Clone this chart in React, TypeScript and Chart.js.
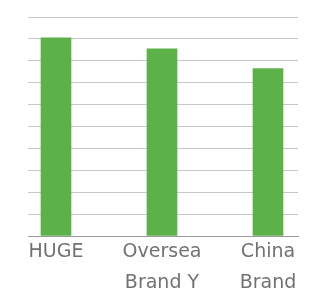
import React, { useEffect, useRef } from "react";
import { Chart, registerables } from "chart.js";

Chart.register(...registerables);

const categories: string[][] = [["HUGE"], ["Oversea", "Brand Y"], ["China", "Brand"]];
const values: number[] = [9.05, 8.55, 7.65];
const yTicks: number[] = [0, 1, 2, 3, 4, 5, 6, 7, 8, 9, 10];

export default function App() {
  const ref = useRef<HTMLCanvasElement | null>(null);
  useEffect(() => {
    if (!ref.current) return;
    const chart = new Chart(ref.current, {
      type: "bar",
      data: {
        datasets: [
          {
            data: values.map((v, i) => ({ x: i, y: v })),
            backgroundColor: "#5cb148",
            barThickness: 30,
            borderWidth: 0,
          },
        ],
      },
      options: {
        animation: false,
        responsive: false,
        events: [],
        layout: { padding: { left: 28, right: 12, top: 17, bottom: 0 } },
        plugins: { legend: { display: false }, tooltip: { enabled: false } },
        scales: {
          x: {
            type: "linear",
            offset: false,
            min: -0.264,
            max: 2.283,
            afterBuildTicks: (scale: any) => {
              scale.ticks = categories.map((_, i) => ({ value: i }));
            },
            afterFit: (scale: any) => {
              scale.height = 60;
            },
            grid: { display: false, drawTicks: false, offset: false },
            border: { display: true, color: "#9a9a9a", width: 1 },
            ticks: {
              autoSkip: false,
              maxRotation: 0,
              padding: 1,
              color: "#727272",
              font: { family: "DejaVu Sans", size: 19, lineHeight: 31 / 19 },
              callback: (v: any) => categories[Math.round(Number(v))] ?? "",
            },
          },
          y: {
            min: 0,
            max: 10,
            afterBuildTicks: (scale: any) => {
              scale.ticks = yTicks.map((t) => ({ value: t }));
            },
            afterFit: (scale: any) => {
              scale.width = 0;
            },
            grid: { color: "#c8c8c8", lineWidth: 1, drawTicks: false },
            border: { display: false },
            ticks: { display: false },
          },
        },
      },
    });
    return () => chart.destroy();
  }, []);
  return (
    <div style={{ position: "absolute", left: 0, top: 0, width: 310, height: 296, background: "#fff" }}>
      <canvas ref={ref} width={310} height={296} />
    </div>
  );
}
